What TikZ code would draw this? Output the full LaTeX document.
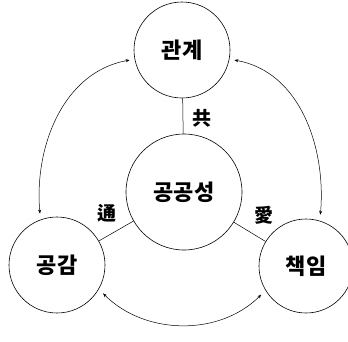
\documentclass[tikz,border=0pt]{standalone}
\usepackage{fontspec}
\newfontfamily\kr{Noto Sans CJK KR}
\usetikzlibrary{arrows.meta}
\begin{document}
\begin{tikzpicture}[x=1pt,y=-1pt,
  bub/.style={circle,draw,line width=0.6pt,inner sep=0pt,font=\kr\bfseries\fontsize{22}{24}\selectfont},
  lab/.style={font=\kr\bfseries\fontsize{19}{20}\selectfont},
  arr/.style={line width=0.5pt,{Stealth[length=4pt,width=3pt]}-{Stealth[length=4pt,width=3pt]}},
  spoke/.style={line width=0.5pt}]
\useasboundingbox (0,0) rectangle (348,341);
\node[bub,minimum size=96pt] (top) at (182,50) {관계};
\node[bub,minimum size=116pt] (mid) at (184,192) {공공성};
\node[bub,minimum size=96pt] (left) at (57,265) {공감};
\node[bub,minimum size=94pt] (right) at (306,266) {책임};
\draw[spoke] (top) -- (mid);
\draw[spoke] (mid) -- (left);
\draw[spoke] (mid) -- (right);
\node[lab] (l1) at (202,118) {共};
\node[lab] (l2) at (107,213) {通};
\node[lab] (l3) at (264,215) {愛};
\draw[arr,shorten <=5pt,shorten >=6pt] (top.191) to[out=190,in=95] (left.110);
\draw[arr,shorten <=5pt,shorten >=6pt] (top.349) to[out=-10,in=85] (right.73);
\draw[arr,shorten <=6pt,shorten >=6pt] (left.-30) to[out=-45,in=225] (right.211);
\end{tikzpicture}
\end{document}
